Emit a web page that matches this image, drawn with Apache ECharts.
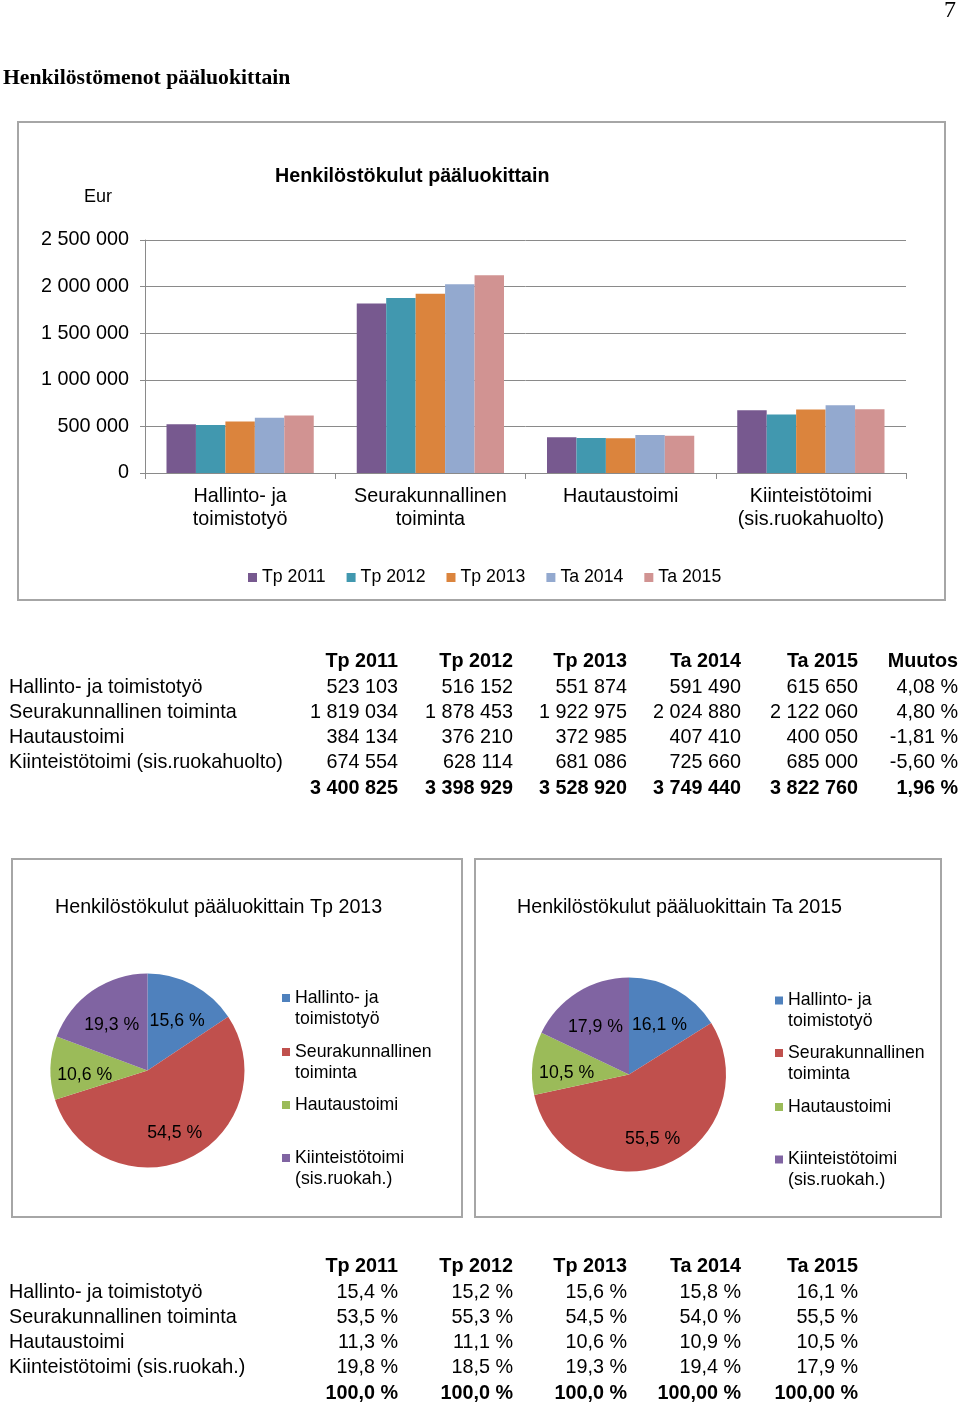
<!DOCTYPE html>
<html><head><meta charset="utf-8">
<script src="https://cdn.jsdelivr.net/npm/echarts@6/dist/echarts.min.js"></script>
<style>
html,body{margin:0;padding:0;background:#fff;}
#page{position:relative;width:960px;height:1406px;overflow:hidden;font-family:'Liberation Sans',Arial,sans-serif;color:#000;}
#chart{position:absolute;left:0;top:0;width:960px;height:1406px;}
.t{position:absolute;white-space:nowrap;font-size:19.8px;line-height:24px;}
.b{font-weight:bold;}
.serif{font-family:'Liberation Serif','Times New Roman',serif;}
</style></head>
<body><div id="page"><div id="chart"></div></div>
<script>
// ---------- DATA ----------
const pageNumber = '7';
const pageHeading = 'Henkilöstömenot pääluokittain';
const barTitle = 'Henkilöstökulut pääluokittain';
const unitLabel = 'Eur';
const categories = ['Hallinto- ja\ntoimistotyö', 'Seurakunnallinen\ntoiminta', 'Hautaustoimi', 'Kiinteistötoimi\n(sis.ruokahuolto)'];
const seriesNames = ['Tp 2011', 'Tp 2012', 'Tp 2013', 'Ta 2014', 'Ta 2015'];
const tp2011 = [523103, 1819034, 384134, 674554];
const tp2012 = [516152, 1878453, 376210, 628114];
const tp2013 = [551874, 1922975, 372985, 681086];
const ta2014 = [591490, 2024880, 407410, 725660];
const ta2015 = [615650, 2122060, 400050, 685000];
const yMin = 0, yMax = 2500000, yStep = 500000;

const table1Labels = ['Hallinto- ja toimistotyö', 'Seurakunnallinen toiminta', 'Hautaustoimi', 'Kiinteistötoimi (sis.ruokahuolto)'];
const totalsRow = ['3 400 825', '3 398 929', '3 528 920', '3 749 440', '3 822 760'];
const muutosHeader = 'Muutos';
const muutos = ['4,08 %', '4,80 %', '-1,81 %', '-5,60 %'];
const muutosTotal = '1,96 %';

const pieNames = ['Hallinto- ja\ntoimistotyö', 'Seurakunnallinen\ntoiminta', 'Hautaustoimi', 'Kiinteistötoimi\n(sis.ruokah.)'];
const pieTitle1 = 'Henkilöstökulut pääluokittain Tp 2013';
const pieTitle2 = 'Henkilöstökulut pääluokittain Ta 2015';

const table3Labels = ['Hallinto- ja toimistotyö', 'Seurakunnallinen toiminta', 'Hautaustoimi', 'Kiinteistötoimi (sis.ruokah.)'];
const share2011 = ['15,4 %', '53,5 %', '11,3 %', '19,8 %'];
const share2012 = ['15,2 %', '55,3 %', '11,1 %', '18,5 %'];
const share2013 = ['15,6 %', '54,5 %', '10,6 %', '19,3 %'];
const share2014 = ['15,8 %', '54,0 %', '10,9 %', '19,4 %'];
const share2015 = ['16,1 %', '55,5 %', '10,5 %', '17,9 %'];
const shareTotals = ['100,0 %', '100,0 %', '100,0 %', '100,00 %', '100,00 %'];

// ---------- LAYOUT / STYLE ----------
const FONT = "'Liberation Sans', Arial, sans-serif";
const barColors = ['#77598F', '#4198AF', '#DB843D', '#93A9CF', '#D19392'];
const pieColors = ['#4F81BD', '#C0504D', '#9BBB59', '#8064A2'];
const gridGray = '#8a8a8a';
const boxGray = '#a6a6a6';

function fmt(n) { return String(n).replace(/\B(?=(\d{3})+(?!\d))/g, ' '); }

// ---------- HTML TEXT (heading + tables) ----------
const page = document.getElementById('page');
function cell(text, x, cy, right, bold, extraClass) {
  const d = document.createElement('div');
  d.className = 't' + (bold ? ' b' : '') + (extraClass ? ' ' + extraClass : '');
  d.textContent = text;
  d.style.top = (cy - 12) + 'px';
  if (right) d.style.right = (960 - x) + 'px'; else d.style.left = x + 'px';
  page.appendChild(d);
  return d;
}
const h = cell(pageHeading, 3, 77, false, true, 'serif');
h.style.fontSize = '21.7px';
const pn = cell(pageNumber, 956, 9, true, false, 'serif');
pn.style.fontSize = '24px';

const colX = [398, 513, 627, 741, 858, 958];
const labelX = 9;
// table 1
const t1Y = [660, 686, 711, 736, 761, 787];
const valueCols = [tp2011, tp2012, tp2013, ta2014, ta2015];
seriesNames.forEach((s, j) => cell(s, colX[j], t1Y[0], true, true));
cell(muutosHeader, colX[5], t1Y[0], true, true);
table1Labels.forEach((lab, i) => {
  cell(lab, labelX, t1Y[i + 1], false, false);
  valueCols.forEach((col, j) => cell(fmt(col[i]), colX[j], t1Y[i + 1], true, false));
  cell(muutos[i], colX[5], t1Y[i + 1], true, false);
});
totalsRow.forEach((v, j) => cell(v, colX[j], t1Y[5], true, true));
cell(muutosTotal, colX[5], t1Y[5], true, true);
// table 3
const t3Y = [1265, 1291, 1316, 1341, 1366, 1392];
const shareCols = [share2011, share2012, share2013, share2014, share2015];
seriesNames.forEach((s, j) => cell(s, colX[j], t3Y[0], true, true));
table3Labels.forEach((lab, i) => {
  cell(lab, labelX, t3Y[i + 1], false, false);
  shareCols.forEach((col, j) => cell(col[i], colX[j], t3Y[i + 1], true, false));
});
shareTotals.forEach((v, j) => cell(v, colX[j], t3Y[5], true, true));

// ---------- ECHARTS ----------
const chart = echarts.init(document.getElementById('chart'), null, { renderer: 'canvas' });

const pie1Center = [147.5, 1070.5];
const pie2Center = [629, 1074.5];
const pieR = 97;

function pieLabelLayout(center) {
  return function (params) {
    const r = params.labelRect;
    const lx = r.x + r.width / 2, ly = r.y + r.height / 2;
    return { dx: (lx - center[0]) * 0.22, dy: (ly - center[1]) * 0.22 + 6 };
  };
}

function pieSeries(values, center) {
  return {
    type: 'pie',
    center: center,
    radius: pieR,
    startAngle: 90,
    clockwise: true,
    silent: true,
    percentPrecision: 1,
    data: pieNames.map((n, i) => ({ name: n, value: values[i], itemStyle: { color: pieColors[i] } })),
    itemStyle: { borderWidth: 0 },
    label: {
      show: true,
      position: 'inside',
      color: '#000',
      fontFamily: FONT,
      fontSize: 17.7,
      formatter: p => p.percent.toFixed(1).replace('.', ',') + ' %'
    },
    labelLine: { show: false },
    labelLayout: pieLabelLayout(center),
    emphasis: { disabled: true }
  };
}

const pieLegendTops1 = [998, 1052, 1105, 1158];
const pieLegendTops2 = [1000.5, 1053, 1107, 1159.5];
function pieLegends(left, tops) {
  return pieNames.map((n, i) => {
    const twoLine = n.indexOf('\n') >= 0;
    return {
      orient: 'vertical',
      left: left,
      top: tops[i] - (twoLine ? 31.5 : 10.5),
      padding: 0,
      itemWidth: 8,
      itemHeight: 8,
      itemGap: 0,
      icon: 'rect',
      selectedMode: false,
      // a blank first line keeps the icon level with the first text line
      formatter: name => (name.indexOf('\n') >= 0 ? ' \n' + name : name),
      textStyle: { fontFamily: FONT, fontSize: 17.7, lineHeight: 21, color: '#000' },
      data: [n]
    };
  });
}

const option = {
  animation: false,
  backgroundColor: 'transparent',
  textStyle: { fontFamily: FONT },
  title: [
    { text: barTitle, left: 275, top: 165, padding: 0, textStyle: { fontFamily: FONT, fontSize: 19.7, fontWeight: 'bold', lineHeight: 24, color: '#000' } },
    { text: unitLabel, left: 84, top: 185, padding: 0, textStyle: { fontFamily: FONT, fontSize: 18, fontWeight: 'normal', lineHeight: 24, color: '#000' } },
    { text: pieTitle1, left: 55, top: 896, padding: 0, textStyle: { fontFamily: FONT, fontSize: 19.7, fontWeight: 'normal', lineHeight: 24, color: '#000' } },
    { text: pieTitle2, left: 517, top: 896, padding: 0, textStyle: { fontFamily: FONT, fontSize: 19.7, fontWeight: 'normal', lineHeight: 24, color: '#000' } }
  ],
  graphic: [
    { type: 'rect', shape: { x: 18, y: 122, width: 927, height: 478 }, style: { fill: 'none', stroke: boxGray, lineWidth: 2 }, silent: true, z: -1 },
    { type: 'rect', shape: { x: 12, y: 859, width: 450, height: 358 }, style: { fill: 'none', stroke: boxGray, lineWidth: 2 }, silent: true, z: -1 },
    { type: 'rect', shape: { x: 475, y: 859, width: 466, height: 358 }, style: { fill: 'none', stroke: boxGray, lineWidth: 2 }, silent: true, z: -1 }
  ],
  legend: [
    {
      data: seriesNames,
      left: 248,
      top: 567,
      padding: 0,
      orient: 'horizontal',
      itemWidth: 9,
      itemHeight: 9,
      itemGap: 21,
      icon: 'rect',
      selectedMode: false,
      textStyle: { fontFamily: FONT, fontSize: 17.7, lineHeight: 21, color: '#000' }
    }
  ].concat(pieLegends(282, pieLegendTops1), pieLegends(775, pieLegendTops2)),
  grid: { left: 145, top: 240, width: 761, height: 233, containLabel: false },
  xAxis: {
    type: 'category',
    data: categories,
    axisLine: { show: true, lineStyle: { color: gridGray, width: 1 } },
    axisTick: { show: true, length: 6, lineStyle: { color: gridGray } },
    axisLabel: { color: '#000', fontFamily: FONT, fontSize: 19.8, lineHeight: 23, margin: 12, interval: 0 },
    splitLine: { show: false }
  },
  yAxis: {
    type: 'value',
    min: yMin, max: yMax, interval: yStep,
    axisLine: { show: true, lineStyle: { color: gridGray, width: 1 } },
    axisTick: { show: true, length: 5, lineStyle: { color: gridGray } },
    axisLabel: { color: '#000', fontFamily: FONT, fontSize: 19.8, margin: 16, formatter: v => fmt(v) },
    splitLine: { show: true, lineStyle: { color: gridGray, width: 1 } }
  },
  series: [tp2011, tp2012, tp2013, ta2014, ta2015].map((vals, j) => ({
    type: 'bar',
    name: seriesNames[j],
    data: vals,
    itemStyle: { color: barColors[j] },
    barGap: '0%',
    barCategoryGap: '22.6%',
    silent: true
  })).concat([pieSeries(tp2013, pie1Center), pieSeries(ta2015, pie2Center)])
};
chart.setOption(option);
</script>
</body></html>
